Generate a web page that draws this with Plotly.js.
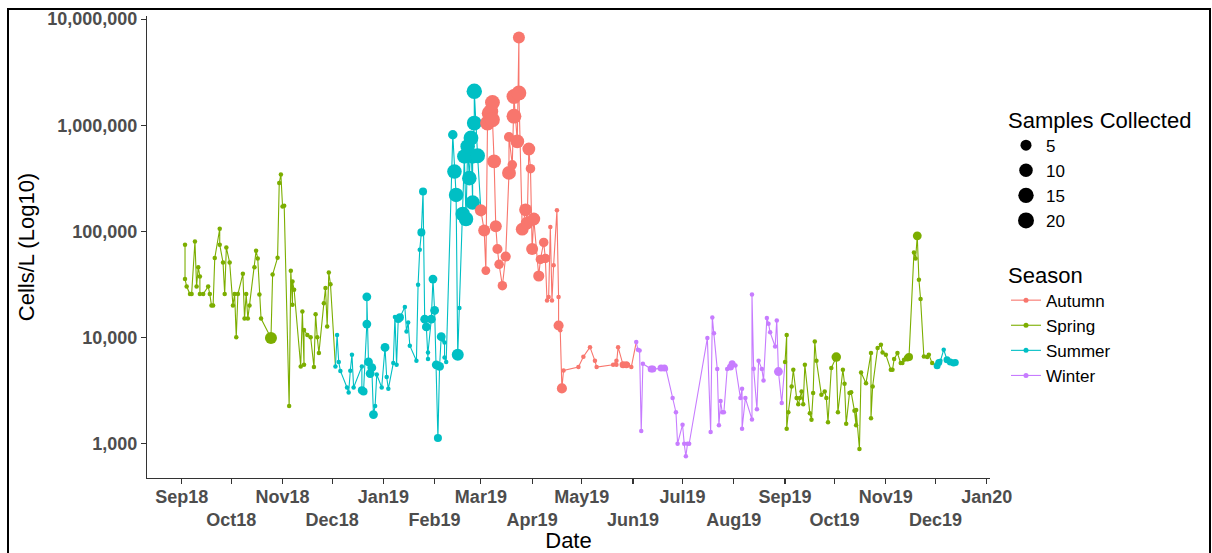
<!DOCTYPE html>
<html><head><meta charset="utf-8">
<script src="https://cdn.plot.ly/plotly-3.0.1.min.js"></script>
<style>html,body{margin:0;padding:0;background:#fff;}#chart{width:1212px;height:553px;}</style>
</head><body><div id="chart"></div>
<script>
// ---------------- DATA ----------------
const seasons = ['Autumn', 'Spring', 'Summer', 'Winter'];
const seasonColors = {Autumn: '#F8766D', Spring: '#7CAE00', Summer: '#00BFC4', Winter: '#C77CFF'};
const sizeLegendValues = [5, 10, 15, 20];

const monthTicks = ['2018-09-01','2018-10-01','2018-11-01','2018-12-01','2019-01-01','2019-02-01','2019-03-01','2019-04-01','2019-05-01','2019-06-01','2019-07-01','2019-08-01','2019-09-01','2019-10-01','2019-11-01','2019-12-01','2020-01-01'];
const monthLabels = ['Sep18','Oct18','Nov18','Dec18','Jan19','Feb19','Mar19','Apr19','May19','Jun19','Jul19','Aug19','Sep19','Oct19','Nov19','Dec19','Jan20'];
const yTickValues = [1000, 10000, 100000, 1000000, 10000000];
const yTickLabels = ['1,000', '10,000', '100,000', '1,000,000', '10,000,000'];

// Spring 2018
const spring18Dates = ['2018-09-03','2018-09-03','2018-09-04','2018-09-06','2018-09-07','2018-09-09','2018-09-10','2018-09-11','2018-09-12','2018-09-12','2018-09-14','2018-09-17','2018-09-18','2018-09-19','2018-09-20','2018-09-21','2018-09-24','2018-09-24','2018-09-26','2018-09-27','2018-09-28','2018-09-30','2018-10-02','2018-10-03','2018-10-04','2018-10-05','2018-10-08','2018-10-09','2018-10-10','2018-10-11','2018-10-12','2018-10-15','2018-10-16','2018-10-17','2018-10-18','2018-10-19','2018-10-25','2018-10-26','2018-10-29','2018-10-30','2018-10-31','2018-11-01','2018-11-02','2018-11-05','2018-11-06','2018-11-07','2018-11-07','2018-11-08','2018-11-12','2018-11-13','2018-11-14','2018-11-14','2018-11-16','2018-11-18','2018-11-20','2018-11-21','2018-11-22','2018-11-23','2018-11-26','2018-11-27','2018-11-28','2018-11-29','2018-11-30'];
const spring18Cells = [75000,35600,30300,25700,25700,80500,30300,46100,37700,25700,25700,30300,25700,20100,20100,56100,106000,75000,51000,25700,70600,51000,20100,25700,10100,25700,39900,15100,25700,15100,20100,46100,65800,55600,25500,15100,9900,39300,56500,286000,344000,172000,175000,2270,42700,20400,33800,28200,5350,17600,5540,11800,10600,10100,5270,16600,10100,7140,21100,29300,12700,41000,31800];
const spring18Samples = [1,1,1,1,1,1,1,1,1,1,1,1,1,1,1,1,1,1,1,1,1,1,1,1,1,1,1,1,1,1,1,1,1,1,1,1,10,1,1,1,1,1,1,1,1,1,1,1,1,1,1,1,1,1,1,1,1,1,1,1,1,1,1];

// Summer 2018-19
const summer18Dates = ['2018-12-03','2018-12-04','2018-12-05','2018-12-06','2018-12-10','2018-12-11','2018-12-12','2018-12-13','2018-12-14','2018-12-19','2018-12-19','2018-12-20','2018-12-22','2018-12-22','2018-12-23','2018-12-24','2018-12-25','2018-12-26','2018-12-27','2018-12-28','2018-12-31','2019-01-02','2019-01-03','2019-01-04','2019-01-07','2019-01-08','2019-01-09','2019-01-10','2019-01-11','2019-01-14','2019-01-15','2019-01-16','2019-01-17','2019-01-21','2019-01-22','2019-01-23','2019-01-24','2019-01-25','2019-01-26','2019-01-27','2019-01-28','2019-01-28','2019-01-30','2019-01-31','2019-02-01','2019-02-02','2019-02-03','2019-02-04','2019-02-05','2019-02-06','2019-02-07','2019-02-07','2019-02-08','2019-02-12','2019-02-13','2019-02-14','2019-02-15','2019-02-16','2019-02-18','2019-02-19','2019-02-20','2019-02-21','2019-02-22','2019-02-23','2019-02-24','2019-02-24','2019-02-25','2019-02-25','2019-02-27'];
const summer18Cells = [5350,10600,5890,4850,3390,3030,4870,6880,3390,5350,3190,3100,13400,24200,5890,4580,5200,1880,2270,4480,3390,8070,4250,3290,5750,15600,5540,15000,15500,19400,11400,13900,8380,6040,31500,67300,98000,238000,14900,12600,6270,7240,14900,35600,18000,5540,1130,5350,10200,9550,9000,6500,5890,815000,367000,221000,6880,19000,146000,509000,131000,632000,318000,759000,187000,509000,1050000,2090000,517000];
const summer18Samples = [1,1,1,1,1,1,1,1,1,1,3,3,4,4,4,4,4,4,1,1,1,4,1,1,1,1,1,3,3,1,1,1,1,1,1,1,3,3,4,4,1,1,4,4,4,4,3,4,4,1,1,1,1,5,17,17,10,1,17,17,17,17,17,18,17,17,18,20,18];

// Autumn 2019
const autumn19Dates = ['2019-03-01','2019-03-03','2019-03-04','2019-03-05','2019-03-06','2019-03-07','2019-03-08','2019-03-08','2019-03-09','2019-03-10','2019-03-11','2019-03-12','2019-03-14','2019-03-16','2019-03-18','2019-03-18','2019-03-20','2019-03-21','2019-03-21','2019-03-23','2019-03-24','2019-03-24','2019-03-26','2019-03-28','2019-03-29','2019-03-30','2019-03-31','2019-04-01','2019-04-02','2019-04-05','2019-04-06','2019-04-08','2019-04-09','2019-04-10','2019-04-11','2019-04-12','2019-04-13','2019-04-14','2019-04-16','2019-04-17','2019-04-17','2019-04-18','2019-04-19','2019-04-20','2019-04-29','2019-05-02','2019-05-06','2019-05-09','2019-05-10','2019-05-20','2019-05-22','2019-05-22','2019-05-23','2019-05-26','2019-05-28','2019-05-29','2019-05-31'];
const autumn19Cells = [158000,102000,42800,1050000,1300000,1350000,1640000,1130000,457000,112000,68300,49000,30800,58000,356000,776000,425000,1220000,1870000,705000,6730000,2020000,105000,160000,120000,598000,390000,68200,131000,38000,54500,78700,55700,22400,24100,110000,22400,48000,158000,24100,13000,11700,3320,4900,5270,6600,8130,6040,5270,5540,6040,5540,8130,5540,5540,5540,5270];
const autumn19Samples = [10,10,4,18,18,18,18,18,15,10,6,5,5,6,15,6,5,18,18,15,10,18,12,12,12,12,5,10,12,8,5,5,5,1,1,1,1,1,1,1,6,1,6,1,1,1,1,1,1,1,1,1,1,2,2,1,1];

// Winter 2019
const winter19Dates = ['2019-06-03','2019-06-04','2019-06-05','2019-06-06','2019-06-07','2019-06-12','2019-06-13','2019-06-18','2019-06-20','2019-06-21','2019-06-25','2019-06-27','2019-06-28','2019-07-01','2019-07-02','2019-07-03','2019-07-04','2019-07-05','2019-07-16','2019-07-18','2019-07-19','2019-07-20','2019-07-22','2019-07-23','2019-07-24','2019-07-25','2019-07-26','2019-07-28','2019-07-30','2019-07-31','2019-08-02','2019-08-05','2019-08-06','2019-08-06','2019-08-08','2019-08-12','2019-08-12','2019-08-13','2019-08-15','2019-08-16','2019-08-18','2019-08-19','2019-08-21','2019-08-22','2019-08-23','2019-08-26','2019-08-27','2019-08-28','2019-08-30'];
const winter19Cells = [9080,7680,7560,1320,5660,5050,5050,5160,5160,5050,2690,1980,1000,1510,1000,762,1000,1000,9890,1290,15500,11000,5050,1490,2530,1980,1980,5050,5270,5660,5450,2690,3300,1380,2690,1690,25500,5090,2110,6040,5050,3950,15300,13500,11200,8250,14500,4790,2420];
const winter19Samples = [1,1,1,1,1,2,2,2,2,1,1,1,1,1,1,1,1,1,1,1,1,1,1,1,1,1,1,1,2,2,1,1,1,1,1,1,1,1,1,1,1,1,1,1,1,1,1,4,1];

// Spring 2019
const spring19Dates = ['2019-09-01','2019-09-02','2019-09-02','2019-09-03','2019-09-05','2019-09-06','2019-09-08','2019-09-09','2019-09-10','2019-09-11','2019-09-12','2019-09-13','2019-09-16','2019-09-17','2019-09-18','2019-09-19','2019-09-20','2019-09-23','2019-09-25','2019-09-26','2019-09-27','2019-09-29','2019-10-02','2019-10-03','2019-10-06','2019-10-07','2019-10-08','2019-10-10','2019-10-11','2019-10-13','2019-10-14','2019-10-14','2019-10-16','2019-10-17','2019-10-20','2019-10-23','2019-10-23','2019-10-24','2019-10-27','2019-10-29','2019-10-30','2019-11-01','2019-11-04','2019-11-05','2019-11-06','2019-11-08','2019-11-10','2019-11-11','2019-11-12','2019-11-14','2019-11-15','2019-11-18','2019-11-19','2019-11-20','2019-11-21','2019-11-22','2019-11-24','2019-11-26','2019-11-27','2019-11-29'];
const spring19Cells = [5880,10600,1380,1980,3460,4980,2690,2350,2690,3100,2350,5540,1940,1680,3000,9190,6040,2890,3100,2690,1590,5160,6550,1980,4980,3670,1540,3000,3050,2040,1490,2080,894,4690,3720,7140,1740,3460,7960,8550,7240,6880,4980,4980,6270,7140,5750,5750,6180,6410,6550,63400,55600,91000,35100,23100,6640,6550,6880,5750];
const spring19Samples = [1,1,1,1,1,1,1,1,1,1,1,1,1,1,1,1,1,1,1,1,1,1,5,1,1,1,1,1,1,1,1,1,1,1,1,1,1,1,1,1,1,1,1,1,1,1,1,1,1,2,3,1,1,4,1,1,1,1,1,1];

// Summer 2019
const summer19Dates = ['2019-12-02','2019-12-03','2019-12-04','2019-12-06','2019-12-08','2019-12-10','2019-12-12','2019-12-13'];
const summer19Cells = [5420,5820,6040,7680,6180,5890,5750,5820];
const summer19Samples = [2,2,1,1,2,2,2,2];

// ---------------- BUILD ----------------
const runs = [
  {season: 'Spring', dates: spring18Dates, cells: spring18Cells, samples: spring18Samples},
  {season: 'Summer', dates: summer18Dates, cells: summer18Cells, samples: summer18Samples},
  {season: 'Autumn', dates: autumn19Dates, cells: autumn19Cells, samples: autumn19Samples},
  {season: 'Winter', dates: winter19Dates, cells: winter19Cells, samples: winter19Samples},
  {season: 'Spring', dates: spring19Dates, cells: spring19Cells, samples: spring19Samples},
  {season: 'Summer', dates: summer19Dates, cells: summer19Cells, samples: summer19Samples}
];

function sizeFor(s) { return 4.5 + 11.5 * Math.sqrt(Math.max(s - 1, 0) / 21); }

const FONT = 'Liberation Sans, Arial, sans-serif';
const traces = [];

// lines (segments take the colour of their starting point, continuous across seasons)
runs.forEach((r, i) => {
  const x = r.dates.slice();
  const y = r.cells.slice();
  if (i < runs.length - 1) { x.push(runs[i + 1].dates[0]); y.push(runs[i + 1].cells[0]); }
  traces.push({type: 'scatter', mode: 'lines', x: x, y: y, showlegend: false, hoverinfo: 'skip',
    line: {color: seasonColors[r.season], width: 1.1}});
});
// points
runs.forEach(r => {
  traces.push({type: 'scatter', mode: 'markers', x: r.dates, y: r.cells, showlegend: false,
    marker: {color: seasonColors[r.season], size: r.samples.map(sizeFor), line: {width: 0}, opacity: 1}});
});
// size legend
sizeLegendValues.forEach(v => {
  traces.push({type: 'scatter', mode: 'markers', x: [null], y: [null], name: String(v), legend: 'legend',
    marker: {color: '#000000', size: sizeFor(v) + 1.5}, showlegend: true});
});
// season legend
seasons.forEach(s => {
  traces.push({type: 'scatter', mode: 'lines+markers', x: [null], y: [null], name: s, legend: 'legend2',
    line: {color: seasonColors[s], width: 1.1}, marker: {color: seasonColors[s], size: 5}, showlegend: true});
});

const L = 147, R = 990, T = 16, B = 478, W = 1212, H = 553;
const pw = R - L, ph = B - T;
const px = v => (v - L) / pw, py = v => (B - v) / ph;

const layout = {
  width: W, height: H,
  margin: {l: L, r: W - R, t: T, b: H - B, pad: 0},
  paper_bgcolor: '#ffffff', plot_bgcolor: '#ffffff',
  font: {family: FONT, color: '#000000'},
  showlegend: true,
  xaxis: {
    type: 'date', range: ['2018-08-11', '2020-01-03'], autorange: false,
    tickmode: 'array', tickvals: monthTicks,
    ticktext: monthLabels.map((t, i) => i % 2 === 0 ? t : '<br>' + t),
    tickangle: 0, ticklabelstandoff: -3,
    showgrid: false, zeroline: false,
    showline: true, linecolor: '#333333', linewidth: 1.1,
    ticks: 'outside', ticklen: 5, tickcolor: '#333333', tickwidth: 1.1,
    tickfont: {family: FONT, size: 18, color: '#4D4D4D', weight: 'bold'},
    title: {text: 'Date', font: {family: FONT, size: 22, color: '#000000'}, standoff: 2}
  },
  yaxis: {
    type: 'log', range: [2.677, 7.03], autorange: false,
    tickmode: 'array', tickvals: yTickValues, ticktext: yTickLabels,
    showgrid: false, zeroline: false,
    showline: true, linecolor: '#333333', linewidth: 1.1,
    ticks: 'outside', ticklen: 5, tickcolor: '#333333', tickwidth: 1.1,
    tickfont: {family: FONT, size: 18, color: '#4D4D4D', weight: 'bold'},
    title: {text: 'Cells/L (Log10)', font: {family: FONT, size: 22, color: '#000000'}, standoff: 6}
  },
  legend: {
    title: {text: 'Samples Collected', font: {family: FONT, size: 22, color: '#000000'}},
    x: px(1006), xanchor: 'left', y: py(99), yanchor: 'top',
    font: {family: FONT, size: 17, color: '#000000'}, bgcolor: 'rgba(0,0,0,0)',
    tracegroupgap: 0, itemsizing: 'trace'
  },
  legend2: {
    title: {text: 'Season', font: {family: FONT, size: 22, color: '#000000'}},
    x: px(1006), xanchor: 'left', y: py(254), yanchor: 'top',
    font: {family: FONT, size: 17, color: '#000000'}, bgcolor: 'rgba(0,0,0,0)',
    tracegroupgap: 0
  },
  shapes: [{type: 'rect', xref: 'paper', yref: 'paper',
    x0: px(8), x1: px(1210), y0: py(575), y1: py(9),
    line: {color: '#000000', width: 2}, fillcolor: 'rgba(0,0,0,0)', layer: 'above'}]
};

Plotly.newPlot('chart', traces, layout, {staticPlot: true, displayModeBar: false});
</script></body></html>
